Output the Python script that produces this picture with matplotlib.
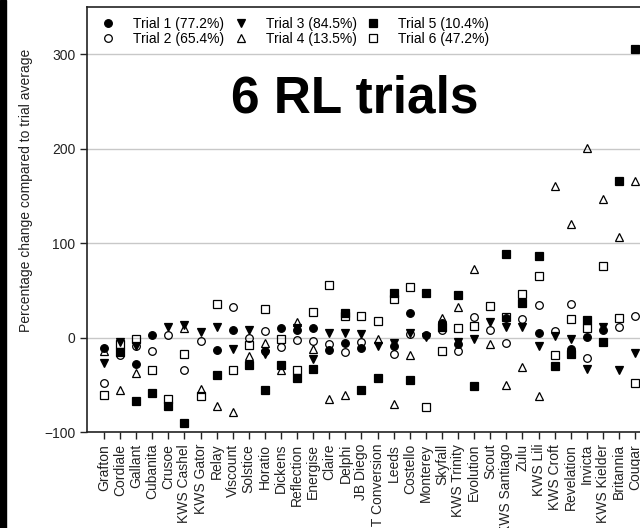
# plot.py
# 六个试验相对平均值的百分比变化散点图

import numpy as np
import matplotlib
matplotlib.use('Agg')
import matplotlib.pyplot as plt
from matplotlib.patches import Rectangle

plt.rcParams['font.family'] = ['Liberation Sans', 'DejaVu Sans']

# -----------------数据
nan = np.nan

varieties = ['Grafton', 'Cordiale', 'Gallant', 'Cubanita', 'Crusoe', 'KWS Cashel',
             'KWS Gator', 'Relay', 'Viscount', 'Solstice', 'Horatio', 'Dickens',
             'Reflection', 'Energise', 'Claire', 'Delphi', 'JB Diego', 'RGT Conversion',
             'Leeds', 'Costello', 'Monterey', 'Skyfall', 'KWS Trinity', 'Evolution',
             'Scout', 'KWS Santiago', 'Zulu', 'KWS Lili', 'KWS Croft', 'Revelation',
             'Invicta', 'KWS Kielder', 'Britannia', 'Cougar']

trial1 = [-10.6, -15, -27.7, 2.5, nan, nan, nan, -12.8, 8.5, nan, -14.5, 10.6,
          7.8, 10.6, -13.5, -5.3, -10.6, nan, -9.2, 25.5, 2.5, 15, -7, nan,
          nan, 21, nan, 4.3, nan, -11.7, 0.7, 7.8, nan, nan]
trial2 = [-48, -18, -9, -14, 2.5, -34, -3.5, nan, 32, 0, 7, -10,
          -2.8, -3.5, -7, -15, -4.6, nan, -17.7, 3.5, nan, 7.8, -14.2, 22,
          7.8, -5.7, 20, 34.8, 6.7, 36, -22, nan, 11.3, 22.7]
trial3 = [-27, -5, -9, nan, 11.3, 13, 6, 11.3, -11.7, 7.8, -17, nan,
          9.6, -22.3, 5, 5, 3.5, -9.2, -5.7, 4.3, 1, nan, -4.6, -1,
          16.7, 11.3, 11.3, -9.2, 1.4, -1.4, -33, 11.3, -34.8, -16.3]
trial4 = [-14, -56, -37, nan, nan, 10.6, -54, -72.7, -78.4, -20, -5.3, -34.8,
          16.7, -11.7, -65, -60.6, nan, -1, -70, -18.8, nan, 21, 32.6, 72.7,
          -6.4, -50.7, -31, -62, 161, 120, 201, 147, 107, 166]
trial5 = [nan, -15, -67, -58.5, -72, -90, nan, -40, nan, -29.4, -55, -29.4,
          -42.5, -33.7, nan, 26, -55.3, -42.5, 46.8, -44.7, 46.8, 11.3, 45, -51.8,
          nan, 88, 37, 86, -30, -17, 18.4, -5, 166, 306]
trial6 = [-61, -7, -1, -34, -65, -17, -62, 35.5, -34, -8, 29.8, -2,
          -34.8, 27.3, 56, 22.7, 22.7, 17.7, 40.8, 54, -73.8, -14.2, 9.6, 12.4,
          33.3, 21.3, 45.7, 65, -18.4, 20, 10.3, 76, 20.2, -48]

trial_labels = ['Trial 1 (77.2%)', 'Trial 2 (65.4%)', 'Trial 3 (84.5%)',
                'Trial 4 (13.5%)', 'Trial 5 (10.4%)', 'Trial 6 (47.2%)']

# -----------------样式
MARKERS = [('o', 'black'), ('o', 'none'), ('v', 'black'),
           ('^', 'none'), ('s', 'black'), ('s', 'none')]

fig = plt.figure(figsize=(6.4, 5.28), dpi=100, facecolor='white')
# 左边的黑条
fig.patches.append(Rectangle((0, 0), 6 / 640, 1, transform=fig.transFigure,
                             color='black', zorder=10))

ax = fig.add_axes([87 / 640, 96 / 528, 0.932, 425 / 528])  # 右侧超出画布，被裁掉
x = np.arange(len(varieties))
series = [trial1, trial2, trial3, trial4, trial5, trial6]
for vals, (m, fc), lab in zip(series, MARKERS, trial_labels):
    ax.plot(x, vals, linestyle='none', marker=m, markersize=5.5,
            markerfacecolor=fc, markeredgecolor='black', markeredgewidth=0.9,
            label=lab, zorder=3)

ax.set_xlim(-1.05, 36)
ax.set_ylim(-100, 350)
ax.set_yticks([-100, 0, 100, 200, 300])
ax.set_xticks(x)
ax.set_xticklabels(varieties, rotation=90, fontsize=10, color='#222222')
ax.tick_params(axis='y', labelsize=10, colors='#222222', length=5, width=1)
ax.tick_params(axis='x', length=5, width=1, colors='#222222')
ax.grid(axis='y', color='#c8c8c8', linewidth=1, zorder=0)
ax.set_axisbelow(True)
for side in ['left', 'bottom', 'top']:
    ax.spines[side].set_color('#222222')
    ax.spines[side].set_linewidth(1.2)
ax.spines['right'].set_visible(False)

fig.text(26 / 640, 1 - 190 / 528, 'Percentage change compared to trial average',
         rotation=90, ha='center', va='center', fontsize=10, color='#222222')
fig.text(355 / 640, 1 - 99 / 528, '6 RL trials', ha='center', va='center',
         fontsize=37, fontweight='bold', color='black')

ax.legend(ncol=3, loc='upper left', bbox_to_anchor=(101 / 640, 1 - 17 / 528),
          bbox_transform=fig.transFigure, frameon=False, fontsize=10,
          handlelength=1.0, handletextpad=1.3, columnspacing=0.7,
          labelspacing=0.05, borderpad=0, borderaxespad=0)

fig.savefig('out.png', dpi=100)
